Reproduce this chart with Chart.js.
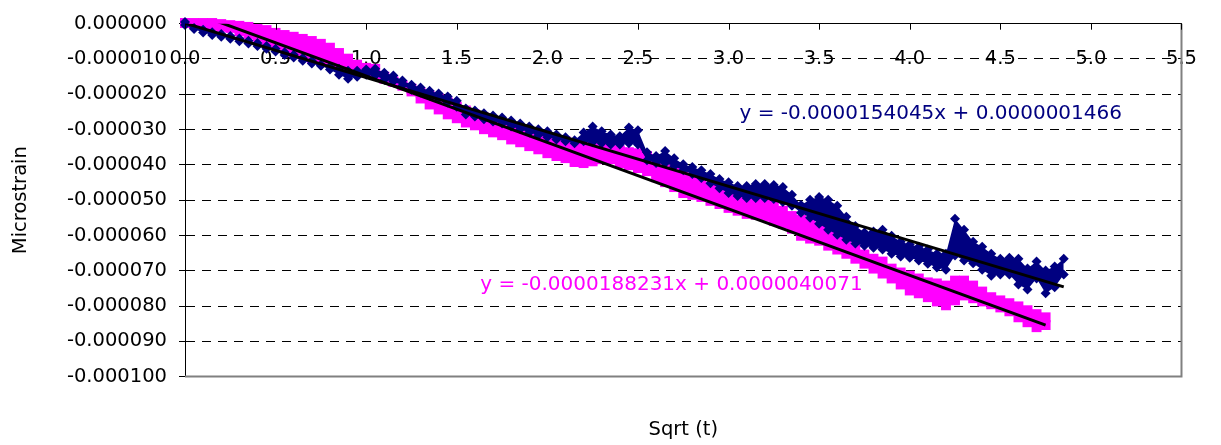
<!DOCTYPE html>
<html>
<head>
<meta charset="utf-8">
<title>Microstrain vs Sqrt (t)</title>
<script src="https://cdn.jsdelivr.net/npm/chart.js@4.4.1/dist/chart.umd.min.js"></script>
<style>
  html, body { margin: 0; padding: 0; background: #fff; }
  #wrap { width: 1221px; height: 445px; }
</style>
</head>
<body>
<div id="wrap"><canvas id="strainChart" width="1221" height="445"></canvas></div>
<script>
// Sample positions along sqrt(t)
const navyX = [
  0, 0.05, 0.1, 0.15, 0.2, 0.25, 0.3, 0.35, 0.4, 0.45,
  0.5, 0.55, 0.6, 0.65, 0.7, 0.75, 0.8, 0.85, 0.9, 0.95,
  1, 1.05, 1.1, 1.15, 1.2, 1.25, 1.3, 1.35, 1.4, 1.45,
  1.5, 1.55, 1.6, 1.65, 1.7, 1.75, 1.8, 1.85, 1.9, 1.95,
  2, 2.05, 2.1, 2.15, 2.2, 2.25, 2.3, 2.35, 2.4, 2.45,
  2.5, 2.55, 2.6, 2.65, 2.7, 2.75, 2.8, 2.85, 2.9, 2.95,
  3, 3.05, 3.1, 3.15, 3.2, 3.25, 3.3, 3.35, 3.4, 3.45,
  3.5, 3.55, 3.6, 3.65, 3.7, 3.75, 3.8, 3.85, 3.9, 3.95,
  4, 4.05, 4.1, 4.15, 4.2, 4.25, 4.3, 4.35, 4.4, 4.45,
  4.5, 4.55, 4.6, 4.65, 4.7, 4.75, 4.8, 4.85
];

// Gauge 1 readings (x 1e-6): upper and lower edge of the scatter at each position
const navyUpper = [
  0.5, -1.2, -1.7, -2.4, -2.9, -3.5, -4.2, -4.8, -5.5, -6.3,
  -7.1, -8.1, -8.8, -9.7, -10.5, -11.6, -12.2, -12.8, -13.3, -13.3,
  -13.0, -12.8, -13.9, -14.7, -16.1, -17.3, -18.1, -19.0, -19.8, -20.6,
  -21.8, -24.0, -24.6, -25.4, -26.0, -26.6, -27.4, -28.3, -29.1, -29.9,
  -30.5, -31.4, -32.2, -33.0, -30.8, -29.1, -30.5, -31.4, -31.9, -29.4,
  -30.2, -36.4, -37.5, -36.1, -38.1, -39.8, -40.6, -41.5, -42.6, -44.0,
  -44.9, -46.0, -46.0, -45.4, -45.4, -45.7, -46.3, -48.5, -51.4, -49.9,
  -49.1, -49.9, -51.6, -54.7, -57.3, -59.2, -58.9, -58.4, -60.1, -61.8,
  -62.6, -63.2, -64.0, -65.2, -65.2, -55.3, -58.4, -61.8, -63.2, -65.2,
  -66.6, -66.3, -66.6, -69.4, -67.4, -69.9, -68.8, -66.6
];
const navyLower = [
  -0.4, -1.5, -2.5, -3.2, -3.7, -4.3, -5.0, -5.6, -6.3, -7.1,
  -7.9, -8.9, -9.6, -10.5, -11.3, -11.9, -13.0, -14.5, -15.6, -15.0,
  -14.5, -14.7, -15.9, -16.4, -17.5, -18.7, -19.5, -20.4, -21.2, -22.3,
  -23.5, -25.7, -26.3, -27.1, -27.7, -28.3, -29.1, -29.9, -30.8, -31.6,
  -32.2, -32.8, -33.3, -33.9, -33.3, -33.6, -33.9, -34.2, -34.2, -33.9,
  -34.2, -38.7, -39.5, -39.5, -40.4, -41.5, -42.6, -43.7, -45.2, -46.6,
  -48.0, -48.8, -49.4, -49.4, -49.4, -49.7, -50.5, -51.6, -53.6, -55.0,
  -56.7, -58.4, -59.8, -61.2, -62.3, -62.9, -63.5, -64.0, -65.2, -66.0,
  -66.3, -67.1, -68.0, -69.1, -69.7, -65.7, -67.1, -67.9, -69.7, -71.4,
  -71.1, -71.1, -73.9, -75.3, -72.2, -76.4, -74.7, -71.1
];

// Gauge 2 readings (x 1e-6), same positions up to 4.75
const pinkUpper = [
  0.2, 0.2, 0.2, 0.2, -0.1, -0.4, -0.6, -0.9, -1.5, -1.8,
  -2.6, -3.2, -3.7, -4.3, -4.9, -5.7, -6.8, -8.3, -9.9, -11.6,
  -12.5, -12.8, -15.0, -16.4, -17.5, -18.4, -19.5, -20.4, -21.2, -22.3,
  -23.5, -24.6, -25.7, -26.6, -27.4, -28.3, -29.1, -29.9, -30.8, -31.6,
  -32.2, -32.8, -33.3, -33.9, -34.7, -34.7, -34.7, -35.3, -35.9, -36.4,
  -36.7, -37.5, -38.4, -39.5, -40.9, -42.3, -44.0, -45.2, -46.3, -47.1,
  -48.0, -48.8, -49.7, -50.2, -50.8, -51.6, -53.0, -54.5, -55.6, -56.7,
  -57.5, -58.9, -60.4, -61.8, -63.7, -65.4, -66.6, -67.4, -69.4, -70.5,
  -71.4, -72.2, -73.3, -73.6, -74.2, -72.8, -72.8, -74.2, -75.9, -77.5,
  -78.4, -79.2, -80.1, -81.2, -82.3, -83.2
];
const pinkLower = [
  0.2, -0.1, -0.4, -0.6, -0.9, -1.2, -2.1, -2.9, -3.7, -4.9,
  -5.7, -6.8, -8.0, -8.8, -9.7, -10.2, -10.8, -11.4, -11.9, -13.0,
  -13.6, -14.5, -15.6, -16.4, -17.5, -19.2, -21.2, -22.9, -24.3, -25.7,
  -26.8, -28.0, -28.8, -29.9, -30.8, -31.6, -32.8, -33.6, -34.7, -35.6,
  -36.7, -37.5, -38.1, -39.2, -39.5, -39.0, -38.4, -38.4, -39.5, -40.1,
  -40.9, -41.8, -43.5, -44.9, -46.3, -48.0, -48.5, -49.1, -50.2, -51.1,
  -52.2, -53.0, -53.9, -54.2, -54.7, -55.9, -56.7, -58.1, -60.1, -60.9,
  -61.5, -62.9, -64.0, -65.2, -66.6, -68.0, -69.4, -70.8, -72.2, -73.9,
  -75.6, -76.4, -77.5, -78.7, -79.8, -78.4, -77.0, -77.8, -78.7, -79.5,
  -80.4, -81.5, -83.2, -84.6, -86.0, -85.4
];
const pinkX = navyX.slice(0, pinkUpper.length);

// Linear trendlines
const navyFit = { slope: -0.0000154045, intercept: 0.0000001466 };
const pinkFit = { slope: -0.0000188231, intercept: 0.0000040071 };

// Where each trendline equation is written (data coordinates)
const navyLabelAt = { x: 4.116, y: -0.0000254 };
const pinkLabelAt = { x: 2.685, y: -0.0000739 };

const MICRO = 1e-6;
const NAVY = "#000080";
const PINK = "#FF00FF";

Chart.defaults.font.family = "'DejaVu Sans', sans-serif";
Chart.defaults.font.size = 19.5;
Chart.defaults.color = "#000";

/**
 * One edge of a scatter band; the lower edge fills up to the upper one.
 */
function bandEdge(xs, ys, color, style, radius, fill, order) {
  return {
    type: "line",
    data: xs.map((x, i) => ({ x, y: ys[i] * MICRO })),
    showLine: true,
    borderWidth: 0,
    borderColor: color,
    backgroundColor: color,
    fill,
    pointStyle: style,
    pointRadius: radius,
    pointHoverRadius: radius,
    pointBackgroundColor: color,
    pointBorderWidth: 0,
    clip: false,
    order
  };
}

/**
 * Straight trendline over the x range of its series.
 */
function trendLine(fit, xs) {
  const x0 = xs[0];
  const x1 = xs[xs.length - 1];
  return {
    type: "line",
    data: [
      { x: x0, y: fit.slope * x0 + fit.intercept },
      { x: x1, y: fit.slope * x1 + fit.intercept }
    ],
    borderColor: "#000",
    borderWidth: 3,
    pointRadius: 0,
    fill: false,
    order: 0
  };
}

function equationText(fit) {
  return "y = " + fit.slope.toFixed(10) + "x + " + fit.intercept.toFixed(10);
}

// Grey frame, inward x ticks and the trendline equations
const plotExtras = {
  id: "plotExtras",
  afterDatasetsDraw(chart) {
    const { ctx, chartArea: a, scales: { x, y } } = chart;
    ctx.save();

    ctx.strokeStyle = "#808080";
    ctx.lineWidth = 2;
    ctx.beginPath();
    ctx.moveTo(a.left, a.bottom);
    ctx.lineTo(a.right, a.bottom);
    ctx.lineTo(a.right, a.top);
    ctx.stroke();

    ctx.strokeStyle = "#000";
    ctx.lineWidth = 1;
    x.ticks.forEach((t) => {
      const px = Math.round(x.getPixelForValue(t.value)) + 0.5;
      ctx.beginPath();
      ctx.moveTo(px, a.top);
      ctx.lineTo(px, a.top + 6);
      ctx.stroke();
    });

    ctx.font = "20px 'DejaVu Sans', sans-serif";
    ctx.textAlign = "center";
    ctx.textBaseline = "middle";
    ctx.fillStyle = NAVY;
    ctx.fillText(equationText(navyFit), x.getPixelForValue(navyLabelAt.x), y.getPixelForValue(navyLabelAt.y));
    ctx.fillStyle = PINK;
    ctx.fillText(equationText(pinkFit), x.getPixelForValue(pinkLabelAt.x), y.getPixelForValue(pinkLabelAt.y));

    ctx.restore();
  }
};

new Chart(document.getElementById("strainChart"), {
  type: "scatter",
  data: {
    datasets: [
      bandEdge(navyX, navyUpper, NAVY, "rectRot", 5, false, 1),
      bandEdge(navyX, navyLower, NAVY, "rectRot", 5, "-1", 1),
      bandEdge(pinkX, pinkUpper, PINK, "rect", 7, false, 2),
      bandEdge(pinkX, pinkLower, PINK, "rect", 7, "-1", 2),
      trendLine(navyFit, navyX),
      trendLine(pinkFit, pinkX)
    ]
  },
  options: {
    responsive: false,
    animation: false,
    events: [],
    layout: { padding: { left: 0, right: 27, top: 0, bottom: 0 } },
    plugins: {
      legend: { display: false },
      tooltip: { enabled: false },
      title: {
        display: true,
        position: "bottom",
        fullSize: false,
        text: "Sqrt (t)",
        color: "#000",
        font: { size: 19.5, weight: "normal" },
        padding: { top: 42, bottom: 3 }
      }
    },
    scales: {
      x: {
        type: "linear",
        position: "top",
        min: 0,
        max: 5.5,
        afterFit(scale) { scale.height = 21; },
        grid: { display: true, drawOnChartArea: false, drawTicks: false },
        border: { display: true, color: "#000", width: 1 },
        ticks: {
          stepSize: 0.5,
          mirror: true,
          padding: 24,
          maxRotation: 0,
          autoSkip: false,
          color: "#000",
          callback: (v) => Number(v).toFixed(1)
        }
      },
      y: {
        type: "linear",
        min: -0.0001,
        max: 0,
        afterFit(scale) { scale.width = 185; },
        grid: { color: "#000", lineWidth: 1, tickLength: 6, tickColor: "#000" },
        border: { display: true, color: "#000", width: 1, dash: [9, 7] },
        ticks: {
          stepSize: 0.00001,
          padding: 12,
          color: "#000",
          callback: (v) => Number(v).toFixed(6)
        },
        title: {
          display: true,
          text: "Microstrain",
          color: "#000",
          font: { size: 19.5, weight: "normal" },
          padding: { top: 9, bottom: 0 }
        }
      }
    }
  },
  plugins: [plotExtras]
});
</script>
</body>
</html>
